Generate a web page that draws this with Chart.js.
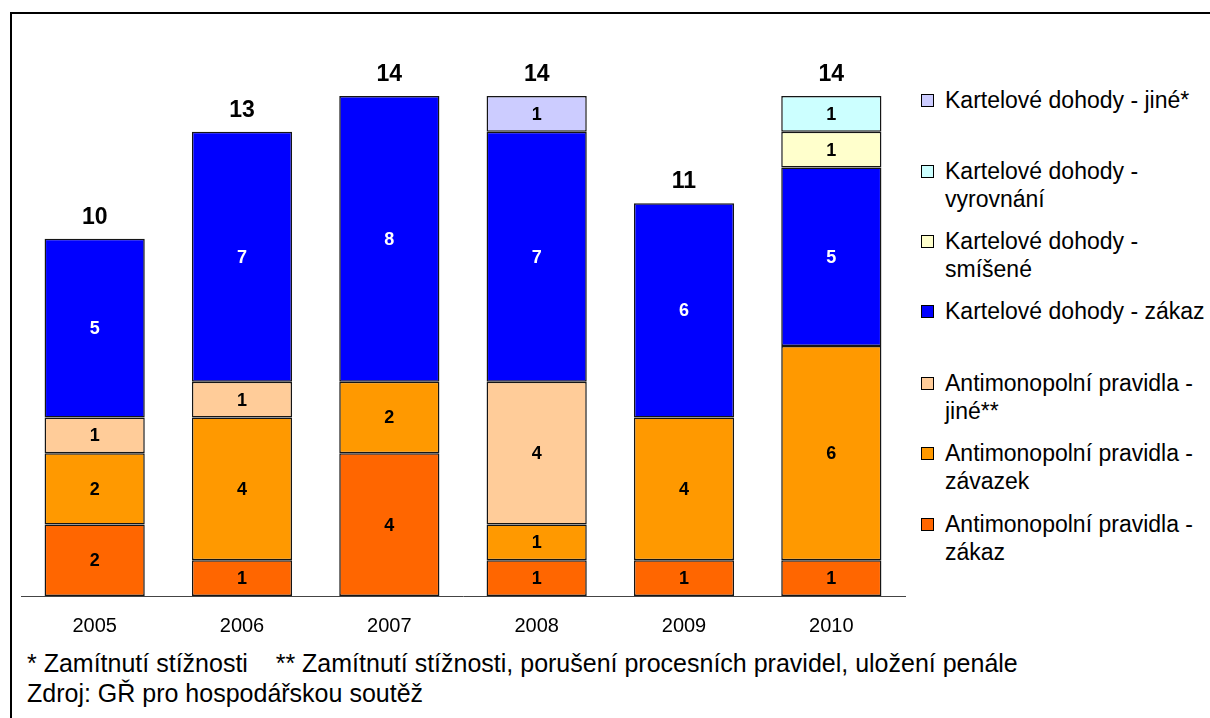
<!DOCTYPE html>
<html lang="cs">
<head>
<meta charset="utf-8">
<script src="https://cdn.jsdelivr.net/npm/chart.js@4.4.1/dist/chart.umd.min.js"></script>
<style>
  html, body { margin: 0; padding: 0; background: #fff; }
  body { width: 1210px; height: 718px; position: relative; overflow: hidden;
         font-family: "Liberation Sans", Arial, sans-serif; color: #000; }
  #frame { position: absolute; left: 10px; top: 12px; width: 1230px; height: 730px;
           border-top: 2px solid #000; border-left: 2px solid #000; }
  #wrap { position: absolute; left: 0; top: 0; width: 910px; height: 640px; }
  .leg { position: absolute; left: 921px; font-size: 23px; line-height: 28px; }
  .leg .sw { position: absolute; left: 0; top: 8px; width: 11px; height: 11px;
             border: 1.5px solid #000; }
  .leg .tx { position: absolute; left: 24px; top: 0; white-space: nowrap; }
  .note { position: absolute; left: 27px; font-size: 25px; line-height: 30px; white-space: pre; }
</style>
</head>
<body>
<div id="frame"></div>
<div id="wrap"><canvas id="c"></canvas></div>
<div id="legend"></div>
<div class="note" style="top:648px">* Zamítnutí stížnosti    ** Zamítnutí stížnosti, porušení procesních pravidel, uložení penále</div>
<div class="note" style="top:678px">Zdroj: GŘ pro hospodářskou soutěž</div>
<script>
// Years on the category axis
const years = ['2005', '2006', '2007', '2008', '2009', '2010'];

// Number of decisions per type, bottom of the stack first
const antiZakaz   = [2, 1, 4, 1, 1, 1];
const antiZavazek = [2, 4, 2, 1, 4, 6];
const antiJine    = [1, 1, 0, 4, 0, 0];
const kartZakaz   = [5, 7, 8, 7, 6, 5];
const kartSmisene = [0, 0, 0, 0, 0, 1];
const kartVyrovn  = [0, 0, 0, 0, 0, 1];
const kartJine    = [0, 0, 0, 1, 0, 0];

// Series names and fills in stacking order
const seriesNames = [
  ['Antimonopolní pravidla -', 'zákaz'],
  ['Antimonopolní pravidla -', 'závazek'],
  ['Antimonopolní pravidla -', 'jiné**'],
  ['Kartelové dohody - zákaz'],
  ['Kartelové dohody -', 'smíšené'],
  ['Kartelové dohody -', 'vyrovnání'],
  ['Kartelové dohody - jiné*']
];
const seriesValues = [antiZakaz, antiZavazek, antiJine, kartZakaz, kartSmisene, kartVyrovn, kartJine];
const seriesColors = ['#FF6600', '#FF9900', '#FFCC99', '#0000FF', '#FFFFCC', '#CCFFFF', '#CCCCFF'];
const labelColors  = ['#000', '#000', '#000', '#fff', '#000', '#000', '#000'];

const FONT = '"Liberation Sans", Arial, sans-serif';

const datasets = seriesValues.map((vals, i) => ({
  label: seriesNames[i].join(' '),
  data: vals.map(v => (v === 0 ? null : v)),
  backgroundColor: seriesColors[i],
  borderColor: '#151515',
  borderWidth: 1.5,
  borderSkipped: false,
  categoryPercentage: 1,
  barPercentage: 0.68
}));

// Writes each segment's value inside it and the year total above the column
const valueLabels = {
  id: 'valueLabels',
  afterDatasetsDraw(chart) {
    const ctx = chart.ctx;
    ctx.save();
    ctx.textAlign = 'center';
    ctx.textBaseline = 'middle';
    ctx.font = 'bold 18px ' + FONT;
    chart.data.datasets.forEach((ds, di) => {
      const meta = chart.getDatasetMeta(di);
      meta.data.forEach((el, i) => {
        const v = ds.data[i];
        if (v === null || v === undefined) return;
        ctx.fillStyle = labelColors[di];
        ctx.fillText(String(v), el.x, (el.y + el.base) / 2 + 1);
      });
    });
    const yScale = chart.scales.y;
    const xMeta = chart.getDatasetMeta(0);
    ctx.font = 'bold 23px ' + FONT;
    ctx.fillStyle = '#000';
    ctx.textBaseline = 'alphabetic';
    years.forEach((y, i) => {
      const total = seriesValues.reduce((s, arr) => s + arr[i], 0);
      const x = xMeta.data[i].x;
      ctx.fillText(String(total), x, yScale.getPixelForValue(total) - 15);
    });
    ctx.restore();
  }
};

new Chart(document.getElementById('c'), {
  type: 'bar',
  data: { labels: years, datasets },
  options: {
    responsive: true,
    maintainAspectRatio: false,
    animation: false,
    layout: { padding: { left: 21, top: 96, right: 5, bottom: 0 } },
    plugins: { legend: { display: false }, tooltip: { enabled: false } },
    scales: {
      x: {
        stacked: true,
        grid: { display: false, drawTicks: false },
        border: { display: true, color: '#444', width: 1 },
        ticks: { color: '#000', font: { family: FONT, size: 20 }, padding: 18 },
        afterFit(scale) { scale.height = 44; }
      },
      y: {
        stacked: true,
        display: false,
        min: 0,
        max: 14
      }
    }
  },
  plugins: [valueLabels]
});

// Legend on the right, topmost series first
const legendTops = [86, 157, 227, 297, 369, 439, 510];
const legend = document.getElementById('legend');
for (let k = 0; k < seriesNames.length; k++) {
  const i = seriesNames.length - 1 - k;
  const item = document.createElement('div');
  item.className = 'leg';
  item.style.top = legendTops[k] + 'px';
  const sw = document.createElement('div');
  sw.className = 'sw';
  sw.style.background = seriesColors[i];
  const tx = document.createElement('div');
  tx.className = 'tx';
  tx.innerHTML = seriesNames[i].join('<br>');
  item.appendChild(sw);
  item.appendChild(tx);
  legend.appendChild(item);
}
</script>
</body>
</html>
